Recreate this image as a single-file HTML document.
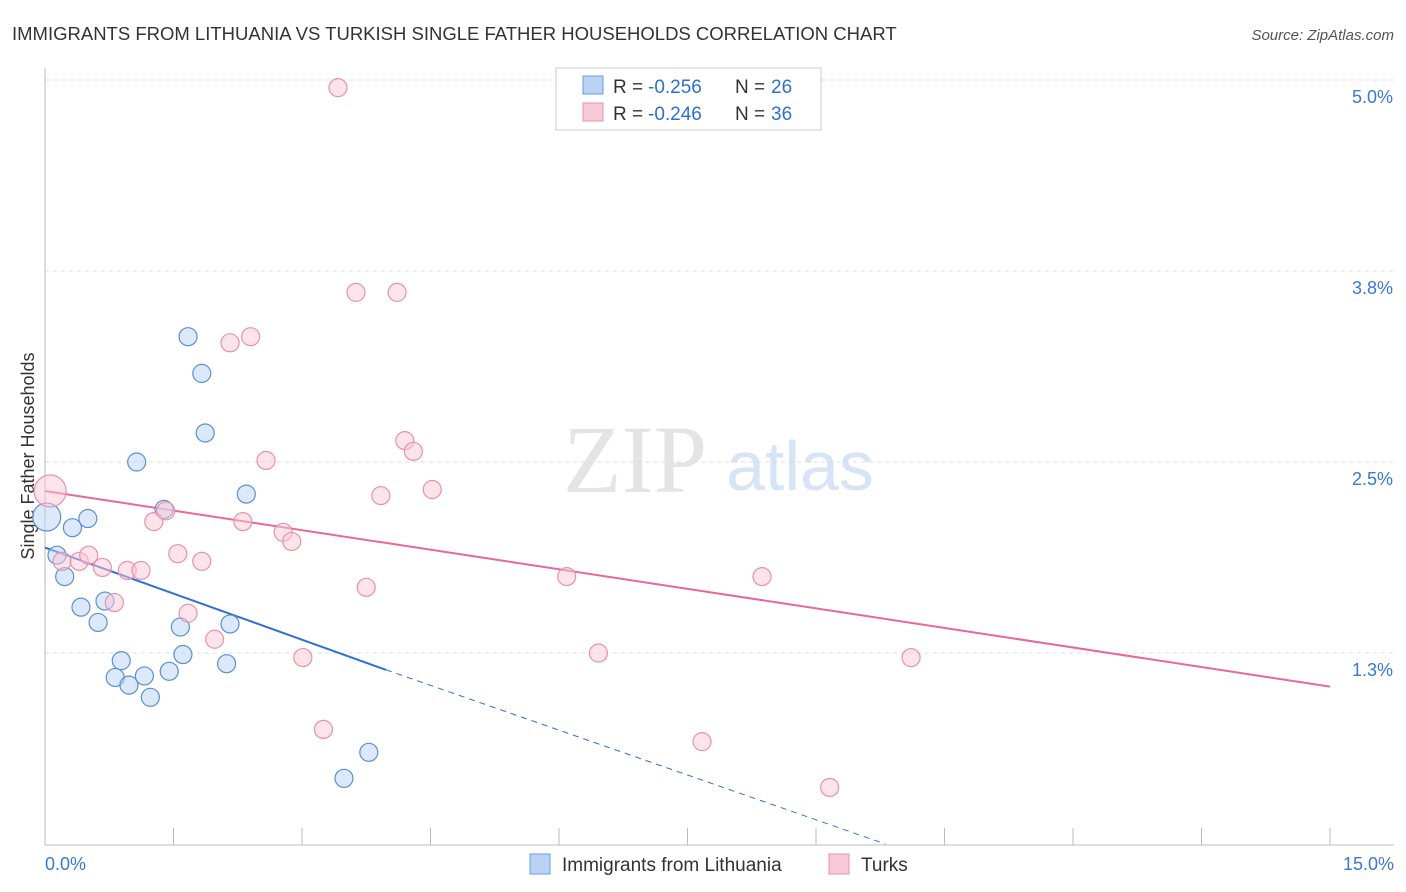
<!DOCTYPE html>
<html><head><meta charset="utf-8"><style>
body{margin:0;background:#fff;font-family:"Liberation Sans",sans-serif}
svg{display:block}
</style></head><body>
<svg id="c" width="1406" height="892">
<text x="12" y="40" font-size="18.5" fill="#333">IMMIGRANTS FROM LITHUANIA VS TURKISH SINGLE FATHER HOUSEHOLDS CORRELATION CHART</text>
<text x="1394" y="40" font-size="15" fill="#555" font-style="italic" text-anchor="end">Source: ZipAtlas.com</text>
<text x="635" y="492" font-size="96" fill="#e4e4e4" font-family="Liberation Serif,serif" text-anchor="middle">ZIP</text>
<text x="800" y="490" font-size="70" fill="#d6e4f5" text-anchor="middle">atlas</text>
<text x="34" y="456" font-size="18" fill="#333" text-anchor="middle" transform="rotate(-90 34 456)">Single Father Households</text>
<g id="grid"></g><g id="axes"></g><g id="lines"></g><g id="pts"></g>
<g>
<rect x="556" y="68" width="265" height="62" fill="#fff" stroke="#ccc"/>
<rect x="583" y="76" width="20" height="18" fill="#b9d3f5" stroke="#6a9be0"/>
<text x="613" y="93" font-size="19" fill="#333">R =</text>
<text x="648" y="93" font-size="19" fill="#2e6fd1">-0.256</text>
<text x="735" y="93" font-size="19" fill="#333">N =</text>
<text x="771" y="93" font-size="19" fill="#2e6fd1">26</text>
<rect x="583" y="103" width="20" height="18" fill="#f9c9d6" stroke="#e891ab"/>
<text x="613" y="120" font-size="19" fill="#333">R =</text>
<text x="648" y="120" font-size="19" fill="#2e6fd1">-0.246</text>
<text x="735" y="120" font-size="19" fill="#333">N =</text>
<text x="771" y="120" font-size="19" fill="#2e6fd1">36</text>
</g>
<g>
<rect x="530" y="854" width="20" height="20" fill="#b9d3f5" stroke="#6a9be0"/>
<text x="562" y="871" font-size="19" fill="#333">Immigrants from Lithuania</text>
<rect x="829" y="854" width="20" height="20" fill="#f9c9d6" stroke="#e891ab"/>
<text x="861" y="871" font-size="19" fill="#333">Turks</text>
</g>
</svg>
<script>
const yTicks=[5.0,3.75,2.5,1.25];
const yTickLabels=["5.0%","3.8%","2.5%","1.3%"];
const xTickLabels=["0.0%","15.0%"];
const blueX=[0.02,0.14,0.23,0.32,0.42,0.50,0.62,0.70,0.82,0.89,0.98,1.07,1.16,1.23,1.39,1.45,1.58,1.61,1.67,1.83,1.87,2.12,2.16,2.35,3.49,3.78];
const blueY=[2.14,1.89,1.75,2.07,1.55,2.13,1.45,1.59,1.09,1.20,1.04,2.50,1.10,0.96,2.19,1.13,1.42,1.24,3.32,3.08,2.69,1.18,1.44,2.29,0.43,0.60];
const pinkX=[0.06,0.20,0.40,0.51,0.67,0.81,0.96,1.12,1.27,1.41,1.55,1.67,1.83,1.98,2.16,2.31,2.40,2.58,2.78,2.88,3.01,3.25,3.42,3.63,3.75,3.92,4.11,4.20,4.30,4.52,6.09,6.46,7.67,8.37,9.16,10.11];
const pinkY=[2.31,1.85,1.85,1.89,1.81,1.58,1.79,1.79,2.11,2.18,1.90,1.51,1.85,1.34,3.28,2.11,3.32,2.51,2.04,1.98,1.22,0.75,4.95,3.61,1.68,2.28,3.61,2.64,2.57,2.32,1.75,1.25,0.67,1.75,0.37,1.22];
const blueTrend=[[0,1.94],[3.98,1.14],[9.81,0]];
const pinkTrend=[[0,2.31],[15,1.03]];
const X=v=>45+v/15*1285, Y=v=>80+(5-v)*152.8;
const NS="http://www.w3.org/2000/svg";
function mk(p,t,a){const e=document.createElementNS(NS,t);for(const k in a)e.setAttribute(k,a[k]);p.appendChild(e);return e;}
const g=document.getElementById('grid'),ax=document.getElementById('axes'),ln=document.getElementById('lines'),pt=document.getElementById('pts');
yTicks.forEach((v,i)=>{
 const l=mk(g,'line',{x1:45,x2:1394,y1:Y(v),y2:Y(v),stroke:'#ddd','stroke-dasharray':'4,4'});
 
 
 const t=mk(g,'text',{x:1393,y:Y(v)+23,'font-size':18,fill:'#3a78d4','text-anchor':'end'});t.textContent=yTickLabels[i];
 
 
});
mk(ax,'line',{x1:45,x2:45,y1:68,y2:845,stroke:'#bbb'});
mk(ax,'line',{x1:45,x2:1394,y1:845,y2:845,stroke:'#bbb'});
for(let i=0;i<=10;i++){const tk=mk(ax,'line',{x1:X(i*1.5),x2:X(i*1.5),y1:828,y2:845,stroke:'#bbb'});
 
 }
[[0,'start',45],[15,'end',1394]].forEach((d,i)=>{const t=mk(ax,'text',{x:d[2],y:870,'font-size':18,fill:'#3a78d4','text-anchor':d[1]});t.textContent=xTickLabels[i];
 
 });
function dot(x,y,f,s,r,n){const c=mk(pt,'circle',{cx:X(x),cy:Y(y),r:r,fill:f,'fill-opacity':0.5,stroke:s,'stroke-width':1.2});
 
 }
blueX.forEach((x,i)=>dot(x,blueY[i],'#b9d3f5','#5b8fd8',i==0?14:9,'lithuania-point'));
pinkX.forEach((x,i)=>dot(x,pinkY[i],'#f9c9d6','#e891ab',i==0?16:9,'turks-point'));
let a=mk(ln,'line',{x1:X(blueTrend[0][0]),y1:Y(blueTrend[0][1]),x2:X(blueTrend[1][0]),y2:Y(blueTrend[1][1]),stroke:'#2f6fd6','stroke-width':2});


a=mk(ln,'line',{x1:X(blueTrend[1][0]),y1:Y(blueTrend[1][1]),x2:X(blueTrend[2][0]),y2:Y(blueTrend[2][1]),stroke:'#2f6fd6','stroke-width':1,'stroke-dasharray':'6,5'});


a=mk(ln,'line',{x1:X(pinkTrend[0][0]),y1:Y(pinkTrend[0][1]),x2:X(pinkTrend[1][0]),y2:Y(pinkTrend[1][1]),stroke:'#e8689a','stroke-width':2});


</script>
</body></html>
